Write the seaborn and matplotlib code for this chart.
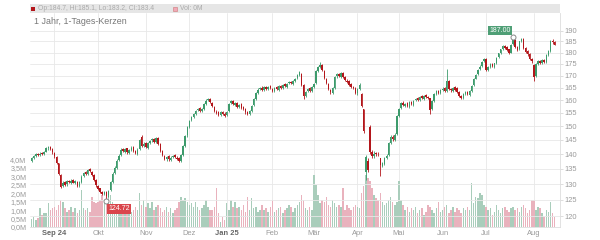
import numpy as np
import pandas as pd
import matplotlib
matplotlib.use("Agg")
import matplotlib.pyplot as plt
import seaborn as sns
from matplotlib.ticker import FixedLocator, NullLocator
from matplotlib.patches import Rectangle

# ---------------- data ----------------
start_date = "2024-08-16"
end_date = "2025-08-15"
holidays = ["2024-12-24", "2024-12-25", "2024-12-26", "2024-12-31",
            "2025-01-01", "2025-04-18", "2025-04-21", "2025-05-01"]
month_labels = ["Sep 24", "Okt", "Nov", "Dez", "Jan 25", "Feb", "Mär",
                "Apr", "Mai", "Jun", "Jul", "Aug"]
bold_labels = ["Sep 24", "Jan 25"]
price_ticks = [120, 125, 130, 135, 140, 145, 150, 155, 160, 165, 170, 175, 180, 185, 190]
vol_ticks = [0.0, 0.5, 1.0, 1.5, 2.0, 2.5, 3.0, 3.5, 4.0]
title_text = "1 Jahr, 1-Tages-Kerzen"

closes = [
    # Aug 24
    138.6, 139.4, 139.9, 139.6, 140.2, 140.0, 140.8, 142.0, 142.4, 141.9, 140.6,
    # Sep
    139.2, 137.0, 133.4, 129.2, 130.4, 129.8, 130.9, 130.6, 131.1, 130.5,
    130.9, 129.4, 130.6, 132.4, 133.6, 133.2, 134.6, 134.2, 133.1, 131.4, 129.6,
    # Oct
    128.4, 127.6, 127.0, 127.4, 126.2, 127.8, 130.6, 133.4, 135.2, 137.8,
    139.4, 141.6, 141.0, 141.8, 140.6, 141.4, 142.2, 141.2, 140.4, 141.6,
    144.8, 143.0, 143.6,
    # Nov
    142.4, 143.8, 144.6, 145.2, 144.4, 145.6, 143.6, 141.2, 139.6, 138.4,
    139.0, 138.2, 138.8, 139.4, 139.0, 138.4, 137.8, 139.6, 142.8, 146.4, 149.6,
    # Dec
    152.0, 153.4, 154.6, 155.8, 156.6, 155.9, 156.4, 158.4, 159.8, 160.4,
    159.2, 157.6, 155.6, 155.0, 154.4, 155.2, 154.6, 154.0,
    # Jan 25
    155.4, 158.6, 159.6, 158.4, 158.8, 157.4, 158.2, 157.0, 156.4, 155.2,
    154.8, 155.6, 157.8, 160.4, 162.8, 164.2, 164.8, 164.2, 165.2, 164.6, 165.4, 164.8,
    # Feb
    163.8, 165.0, 164.4, 165.6, 165.0, 166.2, 165.6, 166.6, 167.2, 166.8,
    167.6, 168.8, 170.2, 171.4, 166.0, 161.8, 163.4, 164.6, 163.8, 165.2,
    # Mar
    166.4, 171.8, 173.6, 174.4, 172.2, 169.0, 166.8, 164.4, 163.2, 164.8,
    169.6, 170.6, 169.8, 171.0, 169.4, 168.0, 167.4, 166.2, 165.4, 165.0, 163.0,
    # Apr
    164.6, 166.2, 157.6, 148.2, 139.0, 134.6, 140.8, 139.4, 140.2, 140.0,
    139.6, 136.2, 136.8, 138.6, 139.4, 143.8, 146.0, 145.2, 146.8, 153.8,
    # May
    156.6, 158.8, 158.0, 158.6, 157.6, 159.2, 158.4, 159.8, 160.6, 160.2,
    161.4, 160.8, 161.8, 161.2, 161.0, 156.2, 159.6, 162.4, 163.6, 163.0, 164.2,
    # Jun
    164.6, 163.8, 167.6, 164.4, 164.0, 165.0, 164.2, 163.4, 161.8, 161.0,
    162.6, 163.2, 162.4, 163.6, 165.8, 168.6, 170.4, 172.6, 173.8, 176.0, 177.2,
    # Jul
    172.4, 173.6, 174.8, 174.0, 175.2, 177.8, 179.6, 181.4, 182.8, 182.2,
    181.0, 179.8, 183.6, 185.8, 182.6, 181.2, 185.0, 186.2, 182.2, 180.4,
    179.2, 177.0, 176.2,
    # Aug
    169.6, 174.8, 176.2, 175.6, 176.6, 175.8, 178.8, 180.6, 185.2, 184.6, 183.4,
]

opens = [
    137.8, 138.8, 139.5, 140.0, 139.7, 140.4, 140.1, 140.9, 142.0, 142.6, 141.8,
    140.4, 139.0, 136.8, 133.0, 129.4, 130.6, 129.9, 131.0, 130.5, 131.2,
    130.4, 130.8, 129.5, 130.8, 132.6, 133.8, 133.4, 134.8, 134.0, 133.0, 131.2,
    129.4, 128.6, 127.4, 126.8, 127.6, 126.4, 128.0, 130.8, 133.6, 135.4,
    138.0, 139.6, 141.8, 140.8, 142.0, 140.4, 141.6, 142.4, 141.0, 140.2,
    141.8, 146.0, 142.8,
    143.8, 142.2, 144.0, 144.8, 145.4, 144.2, 145.8, 143.4, 141.0, 139.4,
    138.2, 139.2, 138.0, 139.0, 139.6, 138.8, 138.6, 137.6, 139.8, 143.0, 146.6,
    149.8, 152.2, 153.6, 154.8, 156.0, 156.8, 155.8, 156.6, 158.6, 160.0,
    160.6, 159.0, 157.4, 155.4, 155.2, 154.2, 155.4, 154.8,
    154.2, 155.6, 158.8, 159.8, 158.2, 159.0, 157.2, 158.4, 157.2, 156.6,
    155.4, 154.6, 155.8, 158.0, 160.6, 163.0, 164.4, 165.0, 164.0, 165.4, 164.4, 165.6,
    164.6, 163.6, 165.2, 164.2, 165.8, 164.8, 166.4, 165.4, 166.8, 167.4,
    166.6, 167.8, 169.0, 170.4, 170.6, 166.2, 161.6, 163.6, 164.8, 163.6,
    165.4, 167.0, 172.0, 173.8, 174.6, 172.0, 168.8, 166.6, 164.2, 163.0,
    165.0, 169.8, 170.8, 169.6, 171.2, 169.6, 167.8, 167.6, 166.4, 165.2, 164.8,
    162.8, 164.4, 162.4, 156.4, 133.8, 137.8, 149.6, 140.6, 139.2, 140.4,
    139.8, 138.6, 136.0, 136.6, 138.8, 139.6, 144.0, 146.2, 145.0, 147.0,
    154.0, 156.8, 159.0, 157.8, 158.8, 157.4, 159.4, 158.2, 160.0, 160.8,
    160.0, 161.6, 160.6, 162.0, 161.4, 160.8, 156.4, 159.8, 162.6, 163.8, 162.8,
    164.0, 164.8, 163.6, 167.8, 164.6, 163.8, 165.2, 165.0, 163.2, 161.6,
    160.8, 162.4, 163.4, 162.2, 163.8, 166.0, 168.8, 170.6, 172.8, 174.0, 176.2,
    177.0, 172.6, 173.8, 175.0, 173.8, 175.4, 178.0, 179.8, 181.6, 183.0,
    182.4, 181.6, 180.0, 183.8, 185.6, 182.4, 181.4, 185.2, 186.0, 182.0,
    180.6, 179.4, 177.2,
    174.6, 170.0, 175.0, 176.4, 175.4, 176.8, 176.0, 179.0, 180.8, 185.4, 184.7,
]

highs = [
    139.0, 139.8, 140.4, 140.3, 140.6, 140.7, 141.2, 142.4, 142.9, 142.8, 142.0,
    140.6, 139.4, 137.0, 133.4, 130.9, 130.9, 131.3, 131.4, 131.5, 131.5,
    131.3, 131.0, 130.9, 132.8, 134.0, 134.2, 135.0, 135.2, 134.4, 133.4, 131.6,
    129.8, 128.9, 127.9, 127.9, 127.9, 128.2, 131.0, 133.8, 135.8, 138.3,
    139.9, 142.0, 142.2, 142.3, 142.3, 141.8, 142.7, 142.8, 141.4, 142.0,
    145.3, 146.6, 144.1,
    144.2, 144.2, 145.0, 145.7, 145.8, 146.0, 146.2, 143.8, 141.4, 139.8,
    139.5, 139.6, 139.2, 139.8, 140.0, 139.2, 139.0, 140.0, 143.2, 146.8, 150.1,
    152.5, 153.9, 155.1, 156.3, 157.1, 157.2, 156.9, 158.9, 160.3, 160.9,
    161.0, 159.4, 157.8, 156.0, 155.6, 155.7, 155.8, 155.2,
    155.9, 159.0, 160.1, 160.2, 159.3, 159.4, 158.6, 158.8, 157.6, 157.0,
    155.8, 156.0, 158.2, 160.8, 163.2, 164.7, 165.3, 165.5, 165.6, 165.8, 165.8, 166.0,
    165.0, 165.4, 165.6, 166.0, 166.2, 166.6, 166.8, 167.0, 167.6, 167.8,
    168.0, 169.2, 170.6, 172.0, 171.0, 166.6, 163.8, 165.0, 165.2, 165.6,
    166.8, 172.2, 174.0, 176.0, 175.0, 172.4, 169.2, 167.0, 164.6, 165.2,
    170.0, 171.2, 171.2, 171.4, 171.6, 170.0, 168.4, 168.0, 166.8, 165.8, 165.2,
    165.0, 166.8, 162.8, 156.6, 139.8, 138.6, 150.4, 141.4, 141.0, 140.9,
    140.6, 138.8, 137.4, 139.0, 140.0, 144.2, 146.8, 146.8, 147.4, 154.2,
    157.0, 159.2, 159.6, 159.0, 159.2, 159.6, 159.8, 160.2, 161.0, 161.2,
    161.8, 162.0, 162.2, 162.4, 161.8, 161.0, 160.0, 162.8, 164.0, 164.2, 164.6,
    165.2, 165.2, 173.0, 168.2, 165.0, 165.4, 165.6, 165.4, 163.6, 162.0,
    163.0, 163.6, 163.8, 164.0, 166.2, 169.0, 170.8, 173.0, 174.4, 176.4, 177.8,
    177.4, 174.0, 175.2, 175.4, 175.6, 178.2, 180.0, 181.8, 183.2, 183.6,
    182.8, 181.8, 184.0, 187.0, 186.0, 182.8, 185.4, 186.6, 186.4, 182.4,
    181.0, 179.8, 177.8,
    174.8, 175.2, 176.6, 176.8, 177.0, 177.2, 179.2, 181.0, 185.8, 186.2, 185.1,
]

lows = [
    137.4, 138.4, 139.1, 139.2, 139.4, 139.6, 139.8, 140.6, 141.6, 141.5, 140.2,
    138.8, 136.6, 133.0, 128.6, 129.0, 129.4, 129.5, 130.2, 130.1, 130.2,
    130.1, 129.0, 129.1, 130.5, 132.3, 132.8, 133.0, 133.8, 132.7, 131.0, 129.2,
    128.0, 127.2, 126.6, 126.4, 124.72, 126.0, 127.7, 130.5, 133.2, 135.0,
    137.6, 139.2, 140.6, 140.4, 140.2, 140.1, 141.2, 140.8, 139.9, 139.8,
    141.4, 142.6, 142.4,
    142.0, 141.8, 143.6, 144.3, 144.0, 143.9, 143.2, 140.8, 139.2, 138.0,
    137.8, 137.8, 137.6, 138.6, 138.6, 138.0, 137.4, 137.2, 139.4, 142.6, 146.2,
    149.4, 151.8, 153.2, 154.4, 155.6, 155.5, 155.4, 156.2, 158.2, 159.6,
    158.8, 157.2, 155.2, 154.6, 154.0, 153.8, 154.2, 153.6,
    153.8, 155.2, 158.4, 158.0, 157.8, 157.0, 156.8, 156.6, 156.0, 154.8,
    154.2, 154.2, 155.4, 157.6, 160.2, 162.6, 164.0, 163.8, 163.6, 164.2, 164.0, 164.4,
    163.4, 163.2, 164.0, 163.8, 164.6, 164.4, 165.2, 165.0, 166.4, 166.4,
    166.2, 167.4, 168.6, 170.0, 165.6, 160.6, 161.2, 163.2, 163.4, 163.2,
    165.0, 166.6, 171.6, 173.4, 171.8, 168.6, 166.4, 164.0, 162.6, 162.6,
    164.6, 169.2, 169.4, 169.2, 169.0, 167.6, 167.0, 165.8, 165.0, 164.4, 162.6,
    162.2, 164.0, 157.2, 147.4, 131.2, 133.8, 140.2, 138.8, 138.8, 139.4,
    139.2, 132.6, 135.6, 136.2, 138.2, 139.2, 143.6, 144.6, 144.6, 146.6,
    153.6, 156.4, 157.6, 157.4, 157.2, 157.0, 158.0, 157.8, 159.6, 159.8,
    159.6, 160.4, 160.2, 160.8, 160.6, 154.6, 156.0, 159.4, 162.2, 162.6, 162.4,
    163.6, 163.4, 163.2, 164.0, 163.4, 163.4, 163.8, 163.0, 161.4, 160.4,
    160.4, 162.0, 162.0, 161.8, 163.4, 165.6, 168.4, 170.2, 172.4, 173.6, 175.8,
    171.8, 172.0, 173.4, 173.6, 173.4, 175.0, 177.6, 179.4, 181.2, 181.8,
    180.6, 179.4, 179.6, 183.4, 182.2, 180.6, 181.0, 184.8, 181.8, 179.8,
    178.6, 176.6, 175.6,
    167.8, 169.6, 174.6, 175.0, 175.0, 175.4, 175.6, 178.6, 180.4, 184.0, 183.2,
]

# volume in millions
volumes = [
    0.5, 0.6, 0.4, 0.55, 1.15, 0.7, 0.85, 0.8, 1.4, 1.0, 1.1,
    1.2, 1.0, 1.3, 1.6, 1.5, 1.1, 0.9, 1.0, 1.2, 0.9,
    1.1, 0.8, 1.0, 2.2, 1.1, 1.0, 1.1, 0.9, 1.75, 1.5, 1.4,
    1.5, 1.6, 1.9, 1.4, 1.6, 2.0, 1.9, 1.5, 1.2, 1.0,
    1.1, 0.9, 1.2, 1.0, 0.8, 1.1, 0.9, 1.0, 1.2, 1.0,
    2.0, 1.3, 1.6,
    1.2, 1.4, 1.1, 1.5, 1.0, 1.2, 1.3, 1.1, 0.9, 1.0,
    1.2, 0.9, 1.1, 0.8, 1.0, 1.1, 1.5, 1.8, 1.6, 1.7, 1.5,
    1.3, 1.4, 1.2, 1.5, 1.2, 1.0, 1.1, 1.3, 1.6, 1.2,
    1.0, 1.0, 1.2, 2.3, 0.8, 0.3, 0.6, 0.4,
    1.4, 1.0, 1.6, 1.2, 1.5, 1.1, 1.2, 1.0, 1.3, 0.9,
    1.8, 1.0, 1.7, 1.1, 1.2, 0.9, 1.0, 1.3, 1.0, 1.1, 0.9, 1.2,
    1.6, 0.9, 1.0, 1.1, 1.2, 0.8, 1.0, 1.1, 1.3, 1.2,
    0.9, 1.1, 1.3, 1.5, 1.9, 1.6, 1.1, 1.0, 1.2, 1.0,
    3.1, 2.5, 1.9, 1.4, 1.6, 1.5, 1.8, 1.3, 1.2, 1.6,
    1.4, 1.2, 1.3, 1.2, 2.3, 1.0, 1.3, 1.1, 1.0, 1.2, 1.3,
    1.2, 1.1, 2.0, 2.4, 3.1, 2.9, 2.7, 2.3, 1.9, 1.7,
    1.6, 2.0, 1.5, 1.3, 1.4, 1.6, 1.8, 1.5, 1.3, 1.5,
    2.7, 1.6, 1.3, 1.0, 1.2, 0.9, 1.1, 1.0, 1.2, 0.8,
    1.0, 1.1, 0.7, 0.9, 1.3, 1.2, 1.0, 0.8, 1.1, 1.5, 0.9,
    1.0, 1.2, 1.3, 0.8, 1.0, 1.2, 0.9, 1.1, 1.0, 0.8,
    1.1, 1.0, 1.2, 1.0, 2.6, 1.4, 1.8, 1.7, 2.0, 1.9, 1.3,
    1.2, 1.0, 1.1, 0.7, 0.9, 1.3, 1.0, 0.8, 1.1, 1.2,
    1.0, 0.9, 1.1, 1.2, 1.0, 1.1, 0.9, 1.2, 1.3, 1.1,
    0.8, 1.0, 1.6,
    1.6, 1.0, 1.2, 1.1, 0.8, 0.6, 1.0, 0.9, 1.5, 0.8, 0.6,
]

# ---------------- frame ----------------
dates = pd.bdate_range(start_date, end_date)
dates = dates[~dates.isin(pd.to_datetime(holidays))]
df = pd.DataFrame({"date": dates, "open": opens, "high": highs, "low": lows,
                   "close": closes, "vol": volumes})
df["idx"] = np.arange(len(df))
df["dir"] = np.where(df["close"] >= df["open"], "up", "down")

month_first = df.groupby(df["date"].dt.to_period("M"))["idx"].first().iloc[1:]

# ---------------- style ----------------
W, H = 600, 240
sns.set_theme(style="white")
plt.rcParams["font.family"] = ["Liberation Sans", "DejaVu Sans"]

GREEN = "#3d9b6c"
RED = "#b3161b"
VGREEN = "#a3d3bb"
VRED = "#f2a9b7"
GRID = "#e8e8e8"
TXT = "#9a9a9a"

fig = plt.figure(figsize=(W / 100, H / 100), dpi=100)
fig.patch.set_facecolor("white")
left, right, top, bottom = 30, 560, 13, 227
axv = fig.add_axes([left / W, 1 - bottom / H, (right - left) / W, (bottom - top) / H])
axp = axv.twinx()

# volume bars
sns.barplot(data=df, x="idx", y="vol", hue="dir",
            palette={"up": VGREEN, "down": VRED}, native_scale=True,
            dodge=False, width=0.72, legend=False, errorbar=None,
            linewidth=0, ax=axv)
axv.set_ylim(0, 12.65)
axv.set_xlim(-0.8, 254.6)
axv.set_xlabel("")
axv.set_ylabel("")
axv.yaxis.set_major_locator(FixedLocator(vol_ticks))
axv.set_yticklabels([f"{v:.1f}M".replace(".", ",") for v in vol_ticks])
axv.tick_params(axis="y", left=False, length=0, labelsize=5.2, labelcolor=TXT, pad=2.5)
axv.set_xticks(month_first.values)
axv.set_xticklabels(month_labels)
axv.tick_params(axis="x", bottom=False, length=0, labelsize=5.4, labelcolor=TXT, pad=2.0)
for lab in axv.get_xticklabels():
    if lab.get_text() in bold_labels:
        lab.set_fontweight("bold")
        lab.set_color("#666666")
axv.set_axisbelow(True)
axv.xaxis.grid(True, color=GRID, lw=0.6)
axv.yaxis.grid(False)
for s in ["top", "left", "right"]:
    axv.spines[s].set_visible(False)
axv.spines["bottom"].set_color("#dddddd")
axv.spines["bottom"].set_linewidth(0.6)

# candles
colors = np.where(df["dir"] == "up", GREEN, RED)
axp.set_yscale("log")
axp.vlines(df["idx"], df["low"], df["high"], colors=colors, lw=0.6, zorder=3)
body_lo = np.minimum(df["open"], df["close"])
body_h = np.maximum(np.abs(df["close"] - df["open"]), 0.25)
axp.bar(df["idx"], body_h, bottom=body_lo, width=0.72, color=colors,
        linewidth=0, zorder=4)
axp.set_ylim(116.9, 198.5)
axp.set_xlim(-0.8, 254.6)
axp.yaxis.set_major_locator(FixedLocator(price_ticks))
axp.yaxis.set_minor_locator(NullLocator())
axp.set_yticklabels([str(t) for t in price_ticks])
axp.tick_params(axis="y", right=True, length=2.5, width=0.6, color="#d8d8d8",
                labelsize=5.4, labelcolor=TXT, pad=1.0)
axp.yaxis.grid(True, color=GRID, lw=0.6, zorder=0)
axp.set_axisbelow(True)
for s in ["top", "left", "bottom"]:
    axp.spines[s].set_visible(False)
axp.spines["right"].set_color("#dddddd")
axp.spines["right"].set_linewidth(0.6)

# high / low markers with labels
ih = int(df["high"].idxmax())
il = int(df["low"].idxmin())
for i, val, col, off in [(ih, df["high"][ih], "#4f9f76", (-9.5, 4.8)),
                         (il, df["low"][il], "#d9454b", (9.2, -5.8))]:
    axp.plot([i], [val], marker="o", ms=3.6, mfc="white", mec="#888888",
             mew=0.7, zorder=6, clip_on=False)
    axp.annotate(f"{val:.2f}", (i, val), xytext=off, textcoords="offset points",
                 ha="center", va="center", fontsize=5.0, color="white",
                 bbox=dict(boxstyle="square,pad=0.18", fc=col, ec="none"),
                 zorder=7)

# header bar
fig.add_artist(Rectangle((left / W, 1 - 13.3 / H), (right - left) / W, 9.3 / H,
                         transform=fig.transFigure, facecolor="#e6e6e6",
                         edgecolor="none", zorder=0))
last = df.iloc[-1]
fig.add_artist(Rectangle((31 / W, 1 - 11 / H), 4 / W, 4 / H, transform=fig.transFigure,
                         facecolor=RED if last["dir"] == "down" else GREEN,
                         edgecolor="none"))
fig.text(38.5 / W, 1 - 8.8 / H,
         f"Op:{last['open']:.1f}, Hi:{last['high']:.1f}, Lo:{last['low']:.1f}, Cl:{last['close']:.1f}",
         fontsize=4.9, color="#aaaaaa", va="center", ha="left")
fig.add_artist(Rectangle((173 / W, 1 - 11 / H), 4 / W, 4 / H, transform=fig.transFigure,
                         facecolor=VRED, edgecolor="#c77", linewidth=0.4))
fig.text(180.5 / W, 1 - 8.8 / H, "Vol: 0M", fontsize=4.9, color="#aaaaaa",
         va="center", ha="left")
fig.text(33.5 / W, 1 - 22 / H, title_text, fontsize=6.4, color="#777777",
         va="center", ha="left")

fig.savefig("out.png", dpi=100, facecolor="white")
